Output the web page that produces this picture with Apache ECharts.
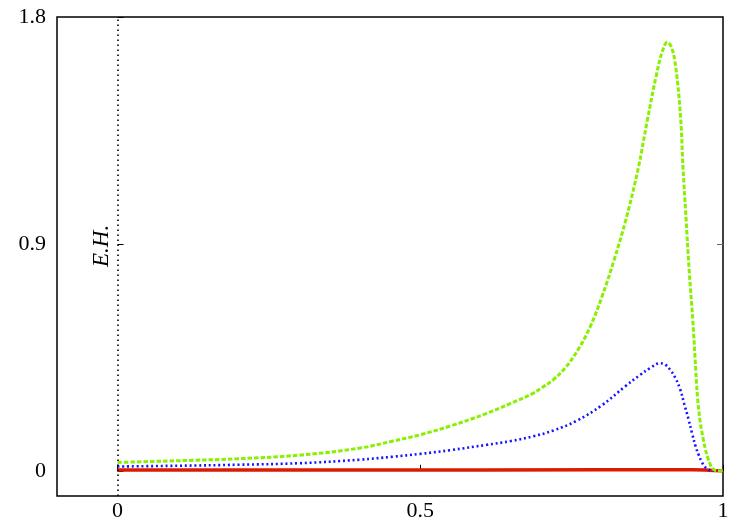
<!DOCTYPE html>
<html><head><meta charset="utf-8">
<script src="https://cdn.jsdelivr.net/npm/echarts@6/dist/echarts.min.js"></script>
<style>html,body{margin:0;padding:0;background:#fff}#c{width:750px;height:525px}</style>
</head><body><div id="c"></div>
<script>
const xTickValues = [0, 0.5, 1];
const yTickValues = [0, 0.9, 1.8];
const ehLabel = 'E.H.';
const ehX = 0;

const redX = [0, 0.2, 0.4, 0.6, 0.8, 0.9, 0.95, 0.97, 0.985, 1.0];
const redY = [0.003, 0.003, 0.003, 0.003, 0.004, 0.004, 0.004, 0.003, 0.001, 0];

const blueX = [0, 0.1, 0.2, 0.3, 0.4, 0.455, 0.5, 0.55, 0.61, 0.65, 0.687, 0.72, 0.758, 0.8, 0.838, 0.863, 0.88, 0.896, 0.905, 0.913, 0.921, 0.929, 0.936, 0.943, 0.949, 0.955, 0.96, 0.965, 0.97, 0.976, 0.982, 1.0];
const blueY = [0.017, 0.020, 0.024, 0.030, 0.044, 0.056, 0.067, 0.082, 0.103, 0.118, 0.137, 0.160, 0.198, 0.26, 0.334, 0.38, 0.408, 0.427, 0.42, 0.40, 0.37, 0.325, 0.265, 0.205, 0.148, 0.095, 0.062, 0.035, 0.016, 0.005, 0, 0];

const greenX = [0, 0.1, 0.2, 0.3, 0.4, 0.455, 0.5, 0.55, 0.61, 0.65, 0.687, 0.70, 0.72, 0.74, 0.76, 0.78, 0.80, 0.82, 0.84, 0.86, 0.875, 0.89, 0.90, 0.908, 0.915, 0.922, 0.930, 0.934, 0.939, 0.944, 0.950, 0.955, 0.958, 0.962, 0.967, 0.971, 0.975, 0.98, 0.985, 0.99, 1.0];
const greenY = [0.033, 0.040, 0.048, 0.062, 0.090, 0.118, 0.143, 0.178, 0.228, 0.268, 0.308, 0.328, 0.362, 0.41, 0.478, 0.568, 0.69, 0.835, 1.0, 1.20, 1.39, 1.57, 1.665, 1.70, 1.68, 1.60, 1.40, 1.20, 1.0, 0.80, 0.60, 0.40, 0.29, 0.20, 0.13, 0.085, 0.05, 0.02, 0.005, 0, 0];

const zip = (xs, ys) => xs.map((x, i) => [x, ys[i]]);
const font = '"Liberation Serif", "DejaVu Serif", serif';

const chart = echarts.init(document.getElementById('c'), null, {renderer: 'canvas'});
const option = {
  animation: false,
  backgroundColor: '#fff',
  grid: {left: 57, top: 17, right: 27, bottom: 29, show: true, borderColor: '#000', borderWidth: 1.5, backgroundColor: 'transparent'},
  xAxis: {
    type: 'value', min: -0.1, max: 1,
    axisLine: {show: false},
    splitLine: {show: false},
    axisTick: {show: true, inside: true, length: 6, customValues: xTickValues, lineStyle: {color: '#000', width: 1}},
    axisLabel: {customValues: xTickValues, color: '#000', fontFamily: font, fontSize: 22, margin: 4}
  },
  yAxis: [{
    type: 'value', min: -0.1, max: 1.8, position: 'left',
    axisLine: {show: false},
    splitLine: {show: false},
    axisTick: {show: true, inside: true, length: 6, customValues: yTickValues, lineStyle: {color: '#000', width: 1}},
    axisLabel: {customValues: yTickValues, color: '#000', fontFamily: font, fontSize: 22, margin: 11}
  }, {
    type: 'value', min: -0.1, max: 1.8, position: 'right',
    axisLine: {show: false},
    splitLine: {show: false},
    axisTick: {show: true, inside: true, length: 6, customValues: [0.9], lineStyle: {color: '#666', width: 1}},
    axisLabel: {show: false}
  }],
  series: [
    {
      type: 'line', data: zip(redX, redY), showSymbol: false, smooth: false,
      lineStyle: {color: '#dd1a00', width: 3.5},
      markLine: {
        silent: true, symbol: 'none', label: {show: false},
        lineStyle: {color: '#000', type: [1.5, 3.5], width: 1.6},
        data: [{xAxis: ehX}]
      }
    },
    {
      type: 'line', data: zip(blueX, blueY), showSymbol: false, smooth: 0.4,
      lineStyle: {color: '#1414ff', width: 2.6, type: [2, 2.8]}
    },
    {
      type: 'line', data: zip(greenX, greenY), showSymbol: false, smooth: 0.4,
      lineStyle: {color: '#88f000', width: 3, type: [4.5, 2]}
    }
  ]
};
chart.setOption(option);
const p = chart.convertToPixel({gridIndex: 0}, [ehX, 0.892]);
chart.setOption({
  graphic: [{
    type: 'text', x: p[0] - 16, y: p[1], rotation: Math.PI / 2,
    style: {text: ehLabel, fill: '#000', font: 'italic 23px ' + font, align: 'center', verticalAlign: 'middle'}
  }]
});
</script></body></html>
